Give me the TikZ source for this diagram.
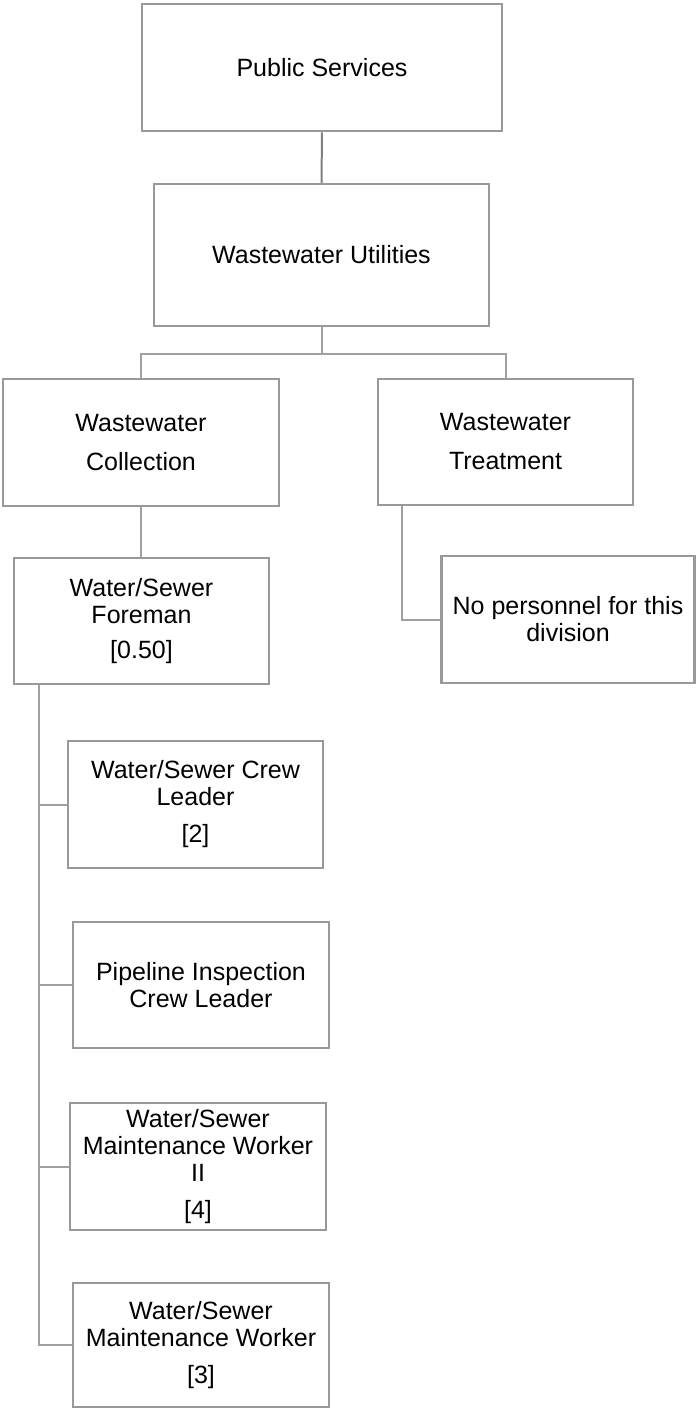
\documentclass[tikz,border=0pt]{standalone}
\usepackage{fontspec}
\setmainfont{Liberation Sans}
\definecolor{cadre}{HTML}{999999}
\definecolor{trait}{HTML}{A0A0A0}

\begin{document}
\begin{tikzpicture}[x=1pt,y=-1pt,
  boite/.style={draw=cadre, line width=2.5pt, align=center, inner sep=0pt,
    minimum width=255pt, minimum height=127pt, font=\fontsize{25}{27}\selectfont},
  lien/.style={draw=trait, line width=2pt}]
\useasboundingbox (0,0) rectangle (696,1409);

%niveaux du haut
\node[boite, minimum width=360pt] (ps) at (322,67.5) {Public Services};
\node[boite, minimum width=335pt, minimum height=142pt] (wu) at (321.5,255) {Wastewater Utilities};
\node[boite, minimum width=276pt] (wc) at (141,442.5) {Wastewater\\[12pt]Collection};
\node[boite, minimum height=126pt] (wt) at (505.5,442) {Wastewater\\[12pt]Treatment};

%sous-divisions
\node[boite, minimum height=126pt] (fm) at (141.5,621) {Water/Sewer\\Foreman\\[8pt][0.50]};
\node[boite, minimum width=253pt] (np) at (568,619.5) {No personnel for this\\division};

%postes
\node[boite] (cl) at (195.5,804.5) {Water/Sewer Crew\\Leader\\[10pt][2]};
\node[boite, minimum width=256pt, minimum height=126pt] (pi) at (201,985) {Pipeline Inspection\\Crew Leader};
\node[boite, minimum width=256pt] (mw2) at (198,1166.5) {Water/Sewer\\Maintenance Worker\\II\\[10pt][4]};
\node[boite, minimum width=256pt, minimum height=124pt] (mw) at (201,1345) {Water/Sewer\\Maintenance Worker\\[10pt][3]};

%liaisons
\draw[lien, draw=gray] (ps.south) -- (wu.north);
\draw[lien] (wu.south) ++(0,27) -| (wc.north);
\draw[lien] (wu.south) -- ++(0,27) -| (wt.north);
\draw[lien] (wc.south) -- (wc.south |- fm.north);
\draw[lien] ([xshift=25pt]wt.south west) |- (np.west);
\foreach \n in {cl,pi,mw2,mw}
  \draw[lien] ([xshift=26pt]fm.south west) |- (\n.west);

\end{tikzpicture}
\end{document}
